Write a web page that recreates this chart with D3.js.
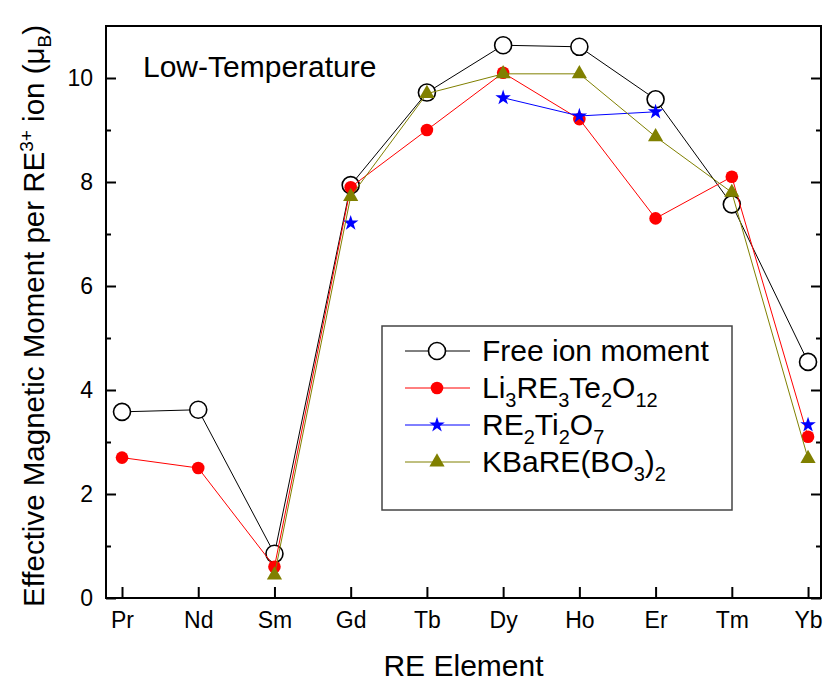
<!DOCTYPE html>
<html>
<head>
<meta charset="utf-8">
<script src="https://cdn.jsdelivr.net/npm/d3@7"></script>
<style>
  body { margin: 0; background: #fff; }
  svg { font-family: "Liberation Sans", Arial, sans-serif; }
</style>
</head>
<body>
<svg id="chart" width="827" height="684"></svg>
<script>
'use strict';
// data (null = no point)
const elements = ['Pr', 'Nd', 'Sm', 'Gd', 'Tb', 'Dy', 'Ho', 'Er', 'Tm', 'Yb'];
const freeIon = [3.58, 3.62, 0.85, 7.94, 9.72, 10.63, 10.60, 9.59, 7.57, 4.54];
const liTe = [2.70, 2.50, 0.60, 7.90, 9.00, 10.10, 9.21, 7.30, 8.10, 3.10];
const reTi = [null, null, null, 7.21, null, 9.62, 9.27, 9.35, null, 3.33];
const kBa = [null, null, 0.44, 7.72, 9.70, 10.08, 10.08, 8.87, 7.80, 2.68];
const yTicks = [0, 2, 4, 6, 8, 10];
const yMinor = [1, 3, 5, 7, 9];

const svg = d3.select('#chart');
const pL = 106, pR = 821, pT = 26, pB = 598;

const x = d3.scaleLinear().domain([-0.21, 9.17]).range([pL, pR]);
const y = d3.scaleLinear().domain([0, 11]).range([pB, pT]);

// axes, ticks pointing inward
const gx = svg.append('g')
  .attr('transform', `translate(0,${pB})`)
  .call(d3.axisBottom(x).tickValues(d3.range(elements.length))
    .tickFormat((i) => elements[i]).tickSize(-11).tickPadding(14));
const gy = svg.append('g')
  .attr('transform', `translate(${pL},0)`)
  .call(d3.axisLeft(y).tickValues(yTicks).tickSize(-10).tickPadding(13));
svg.append('g')
  .attr('transform', `translate(${pL},0)`)
  .call(d3.axisLeft(y).tickValues(yMinor).tickSize(-5).tickFormat(''));
svg.append('g')
  .attr('transform', `translate(${pR},0)`)
  .call(d3.axisRight(y).tickValues(yTicks).tickSize(-10).tickFormat(''));
svg.append('g')
  .attr('transform', `translate(${pR},0)`)
  .call(d3.axisRight(y).tickValues(yMinor).tickSize(-5).tickFormat(''));
svg.selectAll('.domain').remove();
svg.selectAll('.tick line').attr('stroke', '#000').attr('stroke-width', 2);
gx.selectAll('text').attr('font-size', 23).attr('fill', '#000');
gy.selectAll('text').attr('font-size', 23).attr('fill', '#000');

svg.append('rect')
  .attr('x', pL).attr('y', pT)
  .attr('width', pR - pL).attr('height', pB - pT)
  .attr('fill', 'none').attr('stroke', '#000').attr('stroke-width', 2);

// titles
svg.append('text')
  .attr('x', (pL + pR) / 2).attr('y', 676)
  .attr('text-anchor', 'middle').attr('font-size', 30)
  .text('RE Element');
const yt = svg.append('text')
  .attr('transform', 'translate(44,316) rotate(-90)')
  .attr('text-anchor', 'middle').attr('font-size', 29.5);
yt.append('tspan').text('Effective Magnetic Moment per RE');
yt.append('tspan').attr('font-size', 19).attr('dy', -11).text('3+');
yt.append('tspan').attr('dy', 11).text(' ion (\u03bc');
yt.append('tspan').attr('font-size', 19).attr('dy', 7).text('B');
yt.append('tspan').attr('dy', -7).text(')');

svg.append('text')
  .attr('x', 143).attr('y', 77).attr('font-size', 30)
  .text('Low-Temperature');

const series = [
  { vals: freeIon, color: '#000000', mark: 'open' },
  { vals: liTe, color: '#ff0000', mark: 'dot' },
  { vals: reTi, color: '#0000ff', mark: 'star' },
  { vals: kBa, color: '#808000', mark: 'tri' },
];

const line = d3.line()
  .defined((d) => d != null)
  .x((d, i) => x(i))
  .y((d) => y(d));

const drawMark = (g, mark, color) => {
  if (mark === 'open') {
    g.append('circle').attr('r', 8.5).attr('fill', '#fff')
      .attr('stroke', color).attr('stroke-width', 1.6);
  } else if (mark === 'dot') {
    g.append('circle').attr('r', 6.3).attr('fill', color);
  } else if (mark === 'star') {
    g.append('path').attr('d', d3.symbol(d3.symbolStar, 75)()).attr('fill', color);
  } else {
    g.append('path').attr('d', d3.symbol(d3.symbolTriangle, 100)()).attr('fill', color);
  }
};

series.forEach((s) => {
  svg.append('path')
    .attr('d', line(s.vals))
    .attr('fill', 'none').attr('stroke', s.color).attr('stroke-width', 1);
  s.vals.forEach((v, i) => {
    if (v == null) return;
    const g = svg.append('g').attr('transform', `translate(${x(i)},${y(v)})`);
    drawMark(g, s.mark, s.color);
  });
});

// legend
const lg = svg.append('g');
lg.append('rect')
  .attr('x', 382).attr('y', 326).attr('width', 350).attr('height', 184)
  .attr('fill', '#fff').attr('stroke', '#444').attr('stroke-width', 1.5);
const labels = [
  [['Free ion moment', 0]],
  [['Li', 0], ['3', 1], ['RE', 0], ['3', 1], ['Te', 0], ['2', 1], ['O', 0], ['12', 1]],
  [['RE', 0], ['2', 1], ['Ti', 0], ['2', 1], ['O', 0], ['7', 1]],
  [['KBaRE(BO', 0], ['3', 1], [')', 0], ['2', 1]],
];
series.forEach((s, k) => {
  const ly = 351 + k * 37;
  lg.append('line')
    .attr('x1', 405).attr('x2', 470).attr('y1', ly).attr('y2', ly)
    .attr('stroke', s.color).attr('stroke-width', 1);
  drawMark(lg.append('g').attr('transform', `translate(437,${ly})`), s.mark, s.color);
  const t = lg.append('text').attr('x', 482).attr('y', ly + 10).attr('font-size', 30);
  let sub = 0;
  labels[k].forEach(([str, isSub]) => {
    const dy = isSub && !sub ? 9 : (!isSub && sub ? -9 : 0);
    t.append('tspan').attr('dy', dy).attr('font-size', isSub ? 20 : 30).text(str);
    sub = isSub;
  });
});
</script>
</body>
</html>
